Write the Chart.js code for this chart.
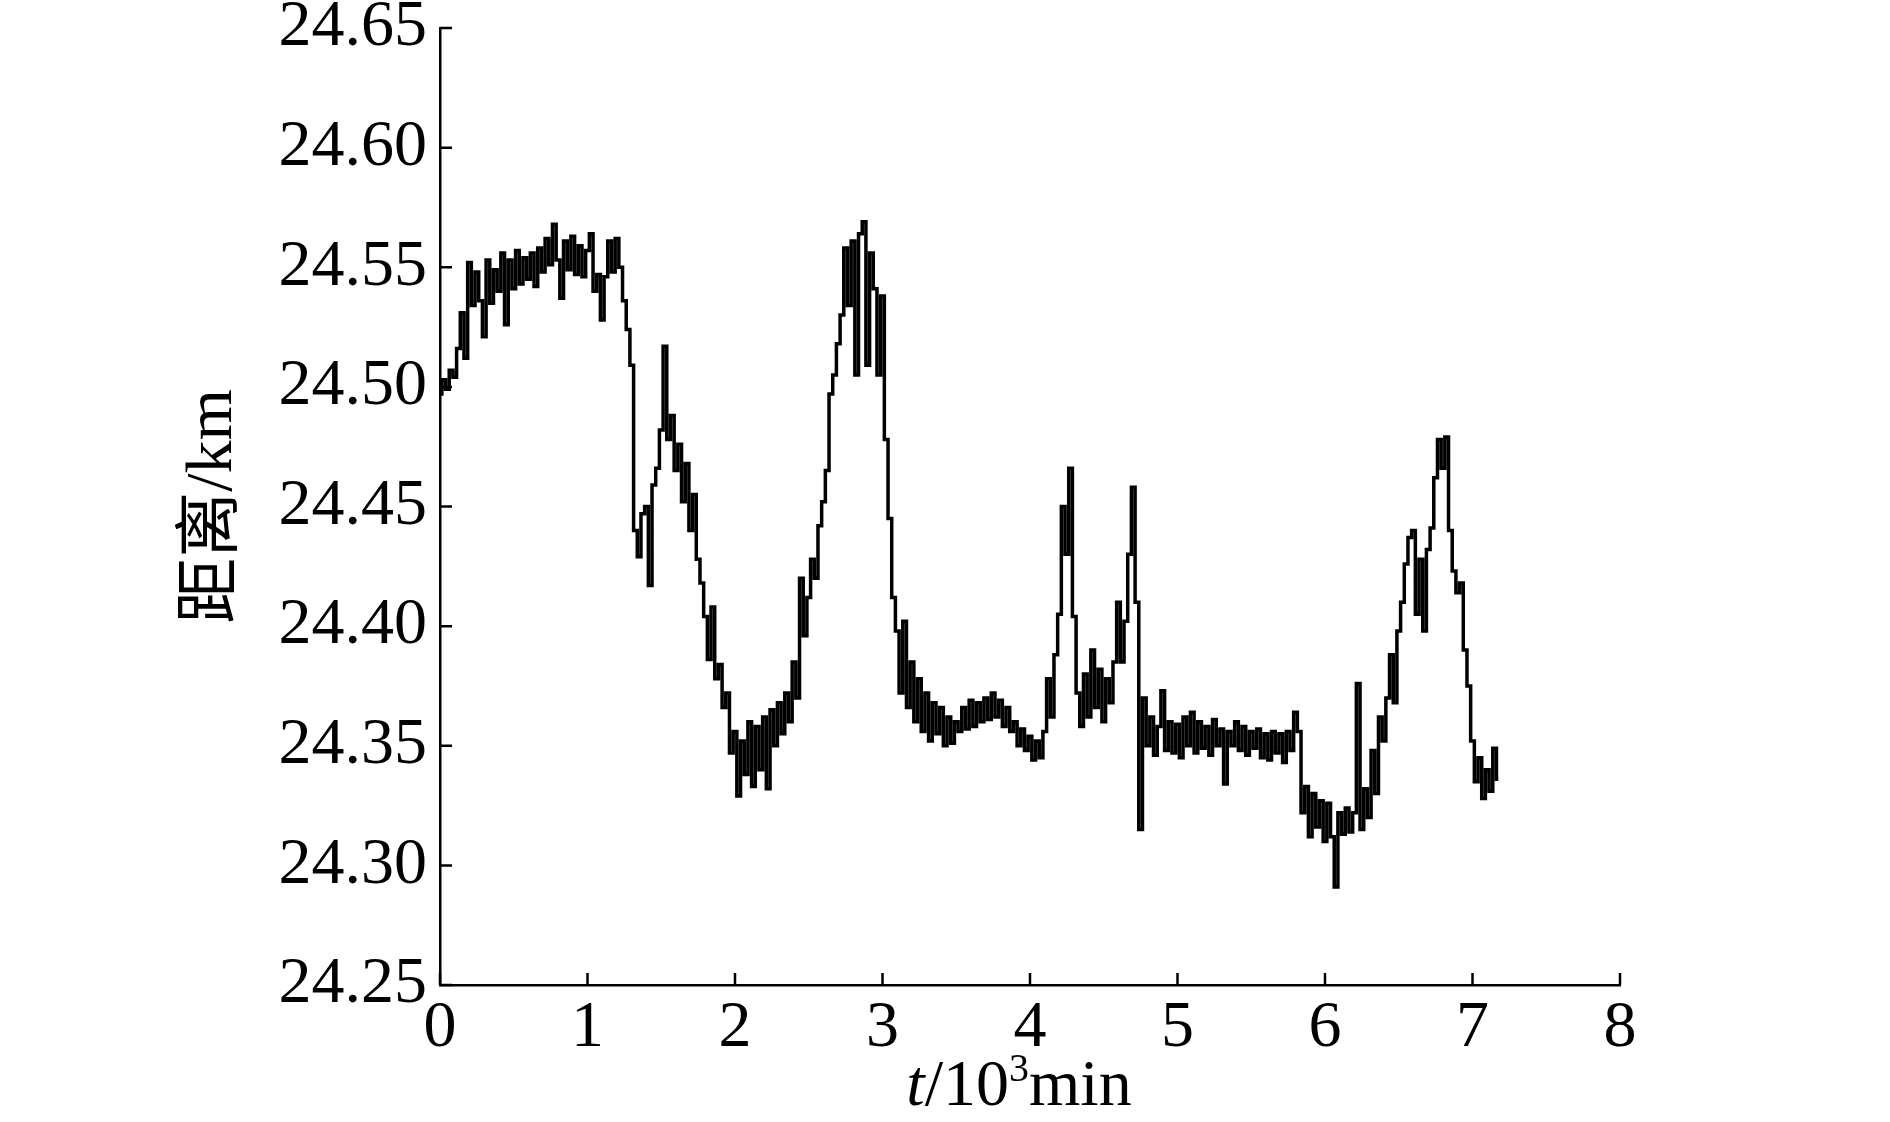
<!DOCTYPE html>
<html>
<head>
<meta charset="utf-8">
<script src="https://cdn.jsdelivr.net/npm/chart.js@4.4.1/dist/chart.umd.min.js"></script>
<style>
  html, body { margin: 0; padding: 0; background: #fff; }
  #wrap { width: 1890px; height: 1122px; }
</style>
</head>
<body>
<div id="wrap"><canvas id="distance-chart" width="1890" height="1122"></canvas></div>
<script>
// one reading every 25 min, starting at t = 0
const sampleStepMin = 25;

// distance (km), 8 samples (200 min) per row
const distanceKm = [
    24.497, 24.503, 24.499, 24.507, 24.504, 24.516, 24.531, 24.512,
    24.552, 24.534, 24.548, 24.536, 24.521, 24.553, 24.535, 24.549,
    24.540, 24.556, 24.526, 24.553, 24.541, 24.557, 24.543, 24.554,
    24.545, 24.556, 24.542, 24.558, 24.548, 24.562, 24.551, 24.568,
    24.553, 24.537, 24.561, 24.549, 24.563, 24.547, 24.559, 24.546,
    24.557, 24.564, 24.540, 24.547, 24.528, 24.546, 24.561, 24.548,
    24.562, 24.550, 24.536, 24.524, 24.509, 24.440, 24.429, 24.447,
    24.450, 24.417, 24.459, 24.466, 24.482, 24.517, 24.478, 24.488,
    24.465, 24.476, 24.452, 24.468, 24.440, 24.455, 24.428, 24.418,
    24.404, 24.386, 24.408, 24.378, 24.384, 24.366, 24.372, 24.347,
    24.356, 24.329, 24.352, 24.338, 24.360, 24.333, 24.358, 24.340,
    24.362, 24.332, 24.365, 24.350, 24.368, 24.355, 24.372, 24.360,
    24.385, 24.370, 24.420, 24.396, 24.412, 24.428, 24.420, 24.442,
    24.452, 24.465, 24.497, 24.505, 24.518, 24.530, 24.558, 24.534,
    24.561, 24.505, 24.564, 24.569, 24.509, 24.556, 24.541, 24.505,
    24.538, 24.478, 24.445, 24.412, 24.398, 24.372, 24.402, 24.366,
    24.385, 24.360, 24.378, 24.356, 24.372, 24.352, 24.368, 24.355,
    24.366, 24.350, 24.362, 24.351, 24.360, 24.356, 24.366, 24.357,
    24.369, 24.358, 24.368, 24.360, 24.370, 24.361, 24.372, 24.362,
    24.369, 24.358, 24.366, 24.356, 24.360, 24.350, 24.357, 24.348,
    24.354, 24.344, 24.352, 24.345, 24.356, 24.378, 24.362, 24.388,
    24.405, 24.450, 24.430, 24.466, 24.404, 24.372, 24.358, 24.380,
    24.362, 24.390, 24.366, 24.382, 24.360, 24.378, 24.368, 24.385,
    24.410, 24.385, 24.402, 24.430, 24.458, 24.410, 24.315, 24.370,
    24.350, 24.362, 24.346, 24.358, 24.373, 24.348, 24.360, 24.347,
    24.359, 24.345, 24.362, 24.350, 24.364, 24.347, 24.360, 24.349,
    24.358, 24.346, 24.361, 24.350, 24.357, 24.334, 24.356, 24.350,
    24.360, 24.348, 24.358, 24.346, 24.356, 24.349, 24.357, 24.345,
    24.355, 24.344, 24.356, 24.347, 24.355, 24.343, 24.356, 24.348,
    24.364, 24.356, 24.322, 24.333, 24.312, 24.330, 24.316, 24.327,
    24.310, 24.326, 24.312, 24.291, 24.322, 24.313, 24.324, 24.314,
    24.322, 24.376, 24.315, 24.332, 24.320, 24.348, 24.330, 24.362,
    24.352, 24.370, 24.388, 24.368, 24.398, 24.410, 24.426, 24.437,
    24.440, 24.405, 24.428, 24.398, 24.432, 24.441, 24.462, 24.478,
    24.466, 24.479, 24.440, 24.423, 24.414, 24.418, 24.390, 24.375,
    24.352, 24.335, 24.345, 24.328, 24.340, 24.331, 24.349, 24.336
];

const xTickValues = [0, 1, 2, 3, 4, 5, 6, 7, 8];          // t / 10^3 min
const yTickValues = [24.25, 24.30, 24.35, 24.40, 24.45, 24.50, 24.55, 24.60, 24.65];

const yTitle = '距离/km';
const serif = "'Liberation Serif', 'Times New Roman', 'Noto Sans CJK SC', serif";

let points = distanceKm.map((v, i) => ({ x: i * sampleStepMin / 1000, y: v }));

// short tick marks pointing into the plot, like the original figure
const inwardTicks = {
    id: 'inwardTicks',
    afterDraw(chart) {
        const ctx = chart.ctx;
        const xs = chart.scales.x, ys = chart.scales.y;
        const len = 12;
        ctx.save();
        ctx.strokeStyle = '#000';
        ctx.lineWidth = 2.5;
        ctx.beginPath();
        xs.ticks.forEach(t => {
            let px = xs.getPixelForValue(t.value);
            ctx.moveTo(px, xs.top);
            ctx.lineTo(px, xs.top - len);
        });
        ys.ticks.forEach(t => {
            let py = ys.getPixelForValue(t.value);
            ctx.moveTo(ys.right, py);
            ctx.lineTo(ys.right + len, py);
        });
        ctx.stroke();
        ctx.restore();
    }
};

// x title has an italic t and a superscript 3, so it is drawn piece by piece
const xTitlePlugin = {
    id: 'xTitle',
    afterDraw(chart) {
        const ctx = chart.ctx;
        const xs = chart.scales.x;
        const size = 66;
        const parts = [
            { text: 't', font: `italic ${size}px ${serif}`, dy: 0 },
            { text: '/10', font: `${size}px ${serif}`, dy: 0 },
            { text: '3', font: `${Math.round(size * 0.6)}px ${serif}`, dy: -size * 0.36 },
            { text: 'min', font: `${size}px ${serif}`, dy: 0 }
        ];
        ctx.save();
        ctx.fillStyle = '#000';
        ctx.textBaseline = 'alphabetic';
        ctx.textAlign = 'left';
        let total = 0;
        parts.forEach(p => { ctx.font = p.font; p.w = ctx.measureText(p.text).width; total += p.w; });
        let x = (xs.left + xs.right) / 2 - 11 - total / 2;
        let baseline = xs.bottom - 17;
        parts.forEach(p => {
            ctx.font = p.font;
            ctx.fillText(p.text, x, baseline + p.dy);
            x += p.w;
        });
        ctx.restore();
    }
};

new Chart(document.getElementById('distance-chart'), {
    type: 'line',
    data: {
        datasets: [{
            data: points,
            borderColor: '#000',
            borderWidth: 3.5,
            stepped: 'middle',
            pointRadius: 0,
            fill: false
        }]
    },
    options: {
        responsive: false,
        animation: false,
        devicePixelRatio: 1,
        layout: { padding: { top: 28, right: 270, left: 0, bottom: 0 } },
        plugins: { legend: { display: false }, tooltip: { enabled: false } },
        scales: {
            x: {
                type: 'linear',
                min: 0,
                max: 8,
                afterBuildTicks: scale => { scale.ticks = xTickValues.map(v => ({ value: v })); },
                ticks: {
                    color: '#000',
                    font: { family: serif, size: 66 },
                    padding: 4,
                    maxRotation: 0,
                    callback: v => String(v)
                },
                grid: { display: false, drawTicks: false },
                border: { display: true, color: '#000', width: 2.5 },
                afterFit: scale => {
                    scale.height = 137;
                    scale.paddingLeft = 0;
                    scale.paddingRight = 0;
                }
            },
            y: {
                min: 24.25,
                max: 24.65,
                afterBuildTicks: scale => { scale.ticks = yTickValues.map(v => ({ value: v })); },
                ticks: {
                    color: '#000',
                    font: { family: serif, size: 66 },
                    padding: 13,
                    callback: v => v.toFixed(2)
                },
                grid: { display: false, drawTicks: false },
                border: { display: true, color: '#000', width: 2.5 },
                title: {
                    display: true,
                    text: yTitle,
                    color: '#000',
                    font: { family: serif, size: 66 },
                    padding: { top: 174, bottom: 0 }
                },
                afterFit: scale => {
                    scale.width = 440;
                    scale.paddingTop = 0;
                    scale.paddingBottom = 0;
                }
            }
        }
    },
    plugins: [inwardTicks, xTitlePlugin]
});
</script>
</body>
</html>
